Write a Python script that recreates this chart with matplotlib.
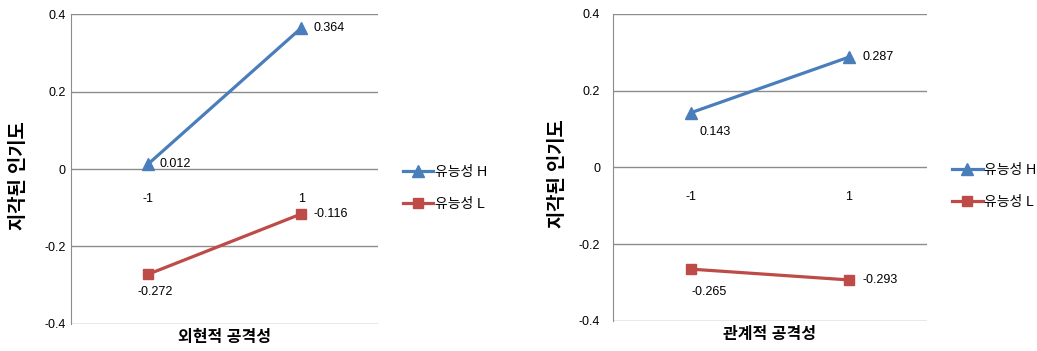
import matplotlib.pyplot as plt

plt.rcParams["font.family"] = ["Liberation Sans", "Noto Sans CJK KR", "DejaVu Sans"]

# data
categories = ["-1", "1"]
series_names = ["유능성 H", "유능성 L"]
left_high = [0.012, 0.364]
left_low = [-0.272, -0.116]
right_high = [0.143, 0.287]
right_low = [-0.265, -0.293]
yticks = [-0.4, -0.2, 0, 0.2, 0.4]
ytick_labels = ["-0.4", "-0.2", "0", "0.2", "0.4"]
xlabels = ["외현적 공격성", "관계적 공격성"]
ylabel = "지각된 인기도"

blue = "#4a7ebb"
red = "#be4b48"
grid_c = "#8c8c8c"


def draw_panel(ax, high, low, xlabel, high_offsets, low_offsets, ytick_pad, ylabel_x):
    xs = list(range(len(categories)))
    ax.plot(xs, high, color=blue, lw=2.3, marker="^", ms=8.5, label=series_names[0])
    ax.plot(xs, low, color=red, lw=2.3, marker="s", ms=7.5, label=series_names[1])

    for x, v, (dx, dy, ha) in zip(xs, high, high_offsets):
        ax.annotate(f"{v:.3f}", (x, v), xytext=(dx, dy), textcoords="offset pixels",
                    ha=ha, va="center", fontsize=9)
    for x, v, (dx, dy, ha) in zip(xs, low, low_offsets):
        ax.annotate(f"{v:.3f}", (x, v), xytext=(dx, dy), textcoords="offset pixels",
                    ha=ha, va="center", fontsize=9)

    ax.set_xlim(-0.5, 1.5)
    ax.set_ylim(-0.4, 0.4)
    ax.set_yticks(yticks)
    ax.set_yticklabels(ytick_labels)
    ax.yaxis.grid(True, color=grid_c, lw=1)
    ax.set_axisbelow(True)

    ax.set_xticks(xs)
    ax.set_xticklabels(categories)
    ax.spines["bottom"].set_position(("data", 0))
    ax.spines["bottom"].set_visible(False)
    ax.spines["top"].set_visible(False)
    ax.spines["right"].set_visible(False)
    ax.spines["left"].set_color(grid_c)
    ax.tick_params(axis="x", length=0, pad=17, labelsize=9)
    ax.tick_params(axis="y", length=0, pad=ytick_pad, labelsize=9)

    ax.set_xlabel(xlabel, fontsize=11.5, fontweight="bold")
    ax.xaxis.set_label_coords(0.5, -0.02)
    ax.set_ylabel(ylabel, fontsize=13.5, fontweight="bold")
    ax.yaxis.set_label_coords(ylabel_x, 0.48)

    ax.legend(loc="center left", bbox_to_anchor=(1.04, 0.44), frameon=False,
              fontsize=10, handlelength=2.2, handletextpad=0.1, labelspacing=1.3)


fig = plt.figure(figsize=(10.37, 3.51), dpi=100)
ax1 = fig.add_axes([0.0685, 0.077, 0.296, 0.883])
ax2 = fig.add_axes([0.591, 0.0855, 0.303, 0.875])

draw_panel(ax1, left_high, left_low, xlabels[0],
           [(12, 0, "left"), (12, 0, "left")],
           [(-10, -18, "left"), (12, 0, "left")], 4, -0.14)
draw_panel(ax2, right_high, right_low, xlabels[1],
           [(8, -19, "left"), (14, 0, "left")],
           [(0, -23, "left"), (14, 0, "left")], 9, -0.145)

fig.savefig("out.png", dpi=100)
